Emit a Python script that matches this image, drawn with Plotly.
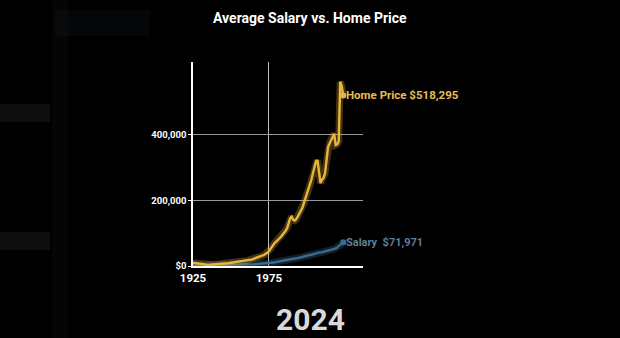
import plotly.graph_objects as go

years = list(range(1925, 2025))
home_price = [
    10000, 9200, 8400, 7600, 6800, 5800, 4800, 3600, 3200, 3300,   # 1925-1934
    3500, 3800, 4000, 4200, 4400, 4700, 5000, 5400, 5800, 6200,    # 1935-1944
    6700, 7200, 7800, 8400, 9000, 9600, 10200, 10800, 11400, 12000, # 1945-1954
    12600, 13200, 13800, 14400, 15000, 16000, 17000, 18000, 19200, 20400, # 1955-1964
    22000, 23500, 25000, 26500, 28000, 30000, 32000, 34000, 38000, 40000, # 1965-1974
    45000, 52000, 60000, 66000, 71000, 75000, 79000, 84000, 89000, 95000, # 1975-1984
    100000, 107000, 115000, 128000, 145000, 150000, 140000, 138000, 142000, 150000, # 1985-1994
    158000, 166000, 176000, 190000, 205000, 215000, 228000, 245000, 262000, 282000, # 1995-2004
    305000, 318000, 322000, 290000, 252000, 262000, 268000, 282000, 320000, 362000, # 2005-2014
    372000, 385000, 392000, 402000, 368000, 370000, 378000, 560000, 546000, 518295, # 2015-2024
]
salary = [
    1400, 1450, 1500, 1500, 1450, 1400, 1300, 1200, 1150, 1200,    # 1925-1934
    1250, 1300, 1350, 1350, 1400, 1450, 1600, 1800, 2000, 2200,    # 1935-1944
    2300, 2400, 2550, 2700, 2800, 2900, 3100, 3250, 3400, 3500,    # 1945-1954
    3700, 3850, 4000, 4100, 4250, 4400, 4550, 4700, 4850, 5000,    # 1955-1964
    5200, 5450, 5700, 6000, 6300, 6500, 6800, 7200, 7700, 8000,    # 1965-1974
    8600, 9200, 9800, 10500, 11500, 12500, 13500, 14300, 15200, 16000, # 1975-1984
    16800, 17300, 18400, 19300, 20200, 21000, 21800, 22900, 23100, 23800, # 1985-1994
    24700, 25900, 27400, 28900, 30500, 32000, 32900, 33300, 34100, 35600, # 1995-2004
    36900, 38700, 40400, 41300, 40700, 41700, 42900, 44300, 44900, 46500, # 2005-2014
    48100, 48600, 50300, 52100, 54100, 55600, 60600, 63800, 66600, 71971, # 2015-2024
]
series_names = ["Home Price", "Salary"]
end_labels = ["Home Price $518,295", "Salary  $71,971"]
y_tickvals = [0, 200000, 400000]
y_ticktext = ["$0", "200,000", "400,000"]
x_tickvals = [1925, 1975]
title_text = "Average Salary vs. Home Price"
year_label = "2024"

gold = "#e9b53c"
blue = "#3a6a8e"

fig = go.Figure()
for vals, col, glow, name in [(salary, blue, "rgba(58,106,142,0.30)", series_names[1]),
                              (home_price, gold, "rgba(233,181,60,0.28)", series_names[0])]:
    fig.add_trace(go.Scatter(x=years, y=vals, mode="lines", line=dict(color=glow, width=7),
                             hoverinfo="skip", showlegend=False))
    fig.add_trace(go.Scatter(x=years, y=vals, mode="lines", line=dict(color=col, width=2.4),
                             name=name, showlegend=False))
    fig.add_trace(go.Scatter(x=[years[-1]], y=[vals[-1]], mode="markers",
                             marker=dict(color=col, size=6), showlegend=False))

fig.add_annotation(x=years[-1], y=home_price[-1], text="<b>" + end_labels[0] + "</b>",
                   showarrow=False, xanchor="left", xshift=1,
                   font=dict(family="Roboto", size=11.5, color="#e8bf55"))
fig.add_annotation(x=years[-1], y=salary[-1], text="<b>" + end_labels[1] + "</b>",
                   showarrow=False, xanchor="left", xshift=1,
                   font=dict(family="Roboto", size=11, color="#5d7f99"))

# title and big year
fig.add_annotation(xref="paper", yref="paper", x=0.69, y=(266 - 18) / 204, text="<b>" + title_text + "</b>",
                   showarrow=False, xanchor="center", yanchor="middle",
                   font=dict(family="Roboto", size=14, color="#ffffff"))
fig.add_annotation(xref="paper", yref="paper", x=0.69, y=(266 - 338) / 204, text="<b>" + year_label + "</b>",
                   showarrow=False, xanchor="center", yanchor="bottom", borderpad=0,
                   font=dict(family="Roboto", size=30, color="#d9d9d9"))

# faint blurred background blobs
def px_x(p):
    return (p - 193) / 170

def px_y(p):
    return (266 - p) / 204

blobs = [
    (55, 10, 150, 36, "rgba(20,40,50,0.18)"),
    (0, 104, 50, 122, "rgba(45,45,45,0.30)"),
    (0, 232, 50, 250, "rgba(45,45,45,0.30)"),
    (52, 0, 68, 338, "rgba(25,25,25,0.18)"),
]
for x0, y0, x1, y1, c in blobs:
    fig.add_shape(type="rect", xref="paper", yref="paper", x0=px_x(x0), x1=px_x(x1),
                  y0=px_y(y1), y1=px_y(y0), fillcolor=c, line=dict(width=0), layer="below")

fig.update_layout(
    width=620, height=338,
    margin=dict(l=193, r=257, t=62, b=72),
    paper_bgcolor="#000000", plot_bgcolor="#000000",
    font=dict(family="Roboto", color="#ffffff"),
    showlegend=False,
)
fig.update_xaxes(range=[1925, 2037], tickvals=x_tickvals, ticktext=[str(v) for v in x_tickvals],
                 showgrid=True, gridcolor="#bbbbbb", gridwidth=1,
                 showline=True, linecolor="#ffffff", linewidth=1.5,
                 ticks="", zeroline=False,
                 tickfont=dict(family="Roboto", size=11.5, color="#ffffff", weight="bold"))
fig.update_yaxes(range=[0, 620000], tickvals=y_tickvals, ticktext=y_ticktext,
                 showgrid=True, gridcolor="#9a9a9a", gridwidth=1,
                 showline=True, linecolor="#ffffff", linewidth=1.5,
                 ticks="outside", ticklen=3, tickcolor="#ffffff", zeroline=False,
                 tickfont=dict(family="Roboto", size=9.5, color="#ffffff", weight="bold"))

fig.write_html("out.html")
